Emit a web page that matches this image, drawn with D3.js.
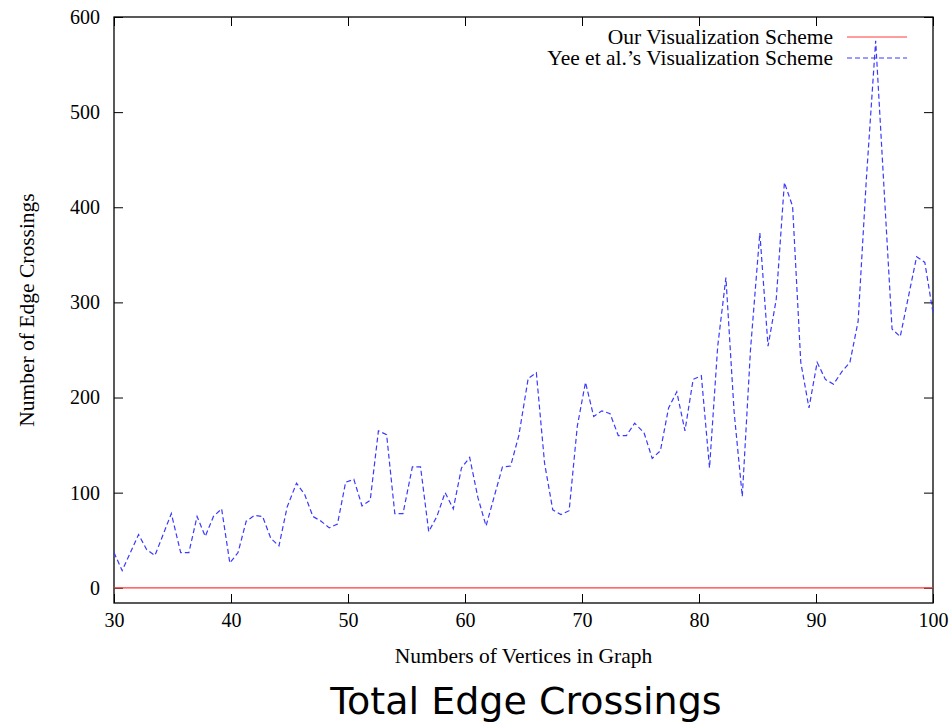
<!DOCTYPE html>
<html>
<head>
<meta charset="utf-8">
<script src="https://cdn.jsdelivr.net/npm/d3@7"></script>
<style>
	body { margin: 0; background: #fff; }
	.tickText { font-family: "Liberation Serif", serif; font-size: 20px; fill: #000; }
	.axisLabel { font-family: "Liberation Serif", serif; font-size: 21.5px; fill: #000; }
	.legendText { font-family: "Liberation Serif", serif; font-size: 21.5px; fill: #000; }
	.title { font-family: "DejaVu Sans", sans-serif; font-size: 38px; fill: #000; }
</style>
</head>
<body>
<svg id="chart" width="952" height="722"></svg>
<script>

// ==================================
// data
// ==================================
var vertexCounts = [
	30.0, 30.7, 31.4, 32.1, 32.8, 33.5, 34.2, 34.9, 35.7, 36.4,
	37.1, 37.8, 38.5, 39.2, 39.9, 40.6, 41.3, 42.0, 42.7, 43.4,
	44.1, 44.8, 45.6, 46.3, 47.0, 47.7, 48.4, 49.1, 49.8, 50.5,
	51.2, 51.9, 52.6, 53.3, 54.0, 54.7, 55.5, 56.2, 56.9, 57.6,
	58.3, 59.0, 59.7, 60.4, 61.1, 61.8, 62.5, 63.2, 63.9, 64.6,
	65.4, 66.1, 66.8, 67.5, 68.2, 68.9, 69.6, 70.3, 71.0, 71.7,
	72.4, 73.1, 73.8, 74.5, 75.3, 76.0, 76.7, 77.4, 78.1, 78.8,
	79.5, 80.2, 80.9, 81.6, 82.3, 83.0, 83.7, 84.4, 85.2, 85.9,
	86.6, 87.3, 88.0, 88.7, 89.4, 90.1, 90.8, 91.5, 92.2, 92.9,
	93.6, 94.3, 95.1, 95.8, 96.5, 97.2, 97.9, 98.6, 99.3, 100.0
];

var yeeCrossings = [
	37, 18, 37, 56, 40, 34, 56, 78, 37, 37,
	75, 54, 75, 83, 26, 37, 70, 76, 75, 52,
	44, 85, 110, 98, 75, 70, 63, 67, 111, 114,
	86, 92, 165, 161, 78, 78, 127, 127, 59, 75,
	100, 83, 126, 137, 95, 65, 96, 127, 128, 160,
	220, 226, 131, 82, 77, 81, 170, 216, 180, 186,
	183, 160, 160, 173, 163, 136, 144, 189, 206, 165,
	219, 223, 126, 254, 326, 185, 96, 250, 373, 254,
	303, 426, 401, 237, 189, 237, 219, 214, 227, 237,
	280, 429, 575, 423, 272, 264, 306, 348, 342, 289
];

// our scheme stays flat on zero over the whole range
var ourVertexCounts = [30, 100];
var ourCrossings = [0, 0];

var xTicks = [30, 40, 50, 60, 70, 80, 90, 100];
var yTicks = [0, 100, 200, 300, 400, 500, 600];

var seriesNames = ["Our Visualization Scheme", "Yee et al.\u2019s Visualization Scheme"];
var seriesColors = ["#ff3a3a", "#3a3aff"];

// ==================================
// layout
// ==================================
var PLOT_L = 114, PLOT_R = 933, PLOT_T = 17, PLOT_B = 603;
var TICK = 9;

var svg = d3.select("#chart");

var x = d3.scaleLinear().domain([30, 100]).range([PLOT_L, PLOT_R]);
var y = d3.scaleLinear().domain([-16, 600]).range([PLOT_B, PLOT_T]);

// axes, ticks pointing inward on all four sides
function drawAxis(axis, tx, ty)
{
	var g = svg.append("g")
		.attr("transform", "translate(" + tx + "," + ty + ")")
		.call(axis);
	g.select(".domain").remove();
	g.selectAll(".tick line").attr("stroke", "#000").attr("stroke-width", 1);
	g.selectAll(".tick text").attr("class", "tickText").attr("font-size", null).attr("font-family", null);
	return g;
}

drawAxis(d3.axisBottom(x).tickValues(xTicks).tickSize(-TICK).tickPadding(10), 0, PLOT_B);
drawAxis(d3.axisTop(x).tickValues(xTicks).tickSize(-TICK).tickFormat(""), 0, PLOT_T);
drawAxis(d3.axisLeft(y).tickValues(yTicks).tickSize(-TICK).tickPadding(14), PLOT_L, 0);
drawAxis(d3.axisRight(y).tickValues(yTicks).tickSize(-TICK).tickFormat(""), PLOT_R, 0);

// frame
svg.append("rect")
	.attr("x", PLOT_L)
	.attr("y", PLOT_T)
	.attr("width", PLOT_R - PLOT_L)
	.attr("height", PLOT_B - PLOT_T)
	.attr("fill", "none")
	.attr("stroke", "#000")
	.attr("stroke-width", 1.3);

// ==================================
// series
// ==================================
var lineGen = d3.line()
	.x(function(d) { return x(d[0]); })
	.y(function(d) { return y(d[1]); });

var plotG = svg.append("g");

plotG.append("path")
	.attr("d", lineGen(d3.zip(ourVertexCounts, ourCrossings)))
	.attr("fill", "none")
	.attr("stroke", seriesColors[0])
	.attr("stroke-width", 1.2);

plotG.append("path")
	.attr("d", lineGen(d3.zip(vertexCounts, yeeCrossings)))
	.attr("fill", "none")
	.attr("stroke", seriesColors[1])
	.attr("stroke-width", 1.2)
	.attr("stroke-dasharray", "5,3");

// ==================================
// legend
// ==================================
var legend = svg.append("g").attr("transform", "translate(0,37)");
seriesNames.forEach(function(name, i)
{
	var row = legend.append("g").attr("transform", "translate(0," + (i * 21) + ")");
	row.append("text")
		.attr("class", "legendText")
		.attr("x", 833)
		.attr("y", 7)
		.attr("text-anchor", "end")
		.text(name);
	row.append("line")
		.attr("x1", 847).attr("x2", 907)
		.attr("y1", 0).attr("y2", 0)
		.attr("stroke", seriesColors[i])
		.attr("stroke-width", 1.2)
		.attr("stroke-dasharray", i == 1 ? "5,3" : null);
});

// ==================================
// labels
// ==================================
svg.append("text")
	.attr("class", "axisLabel")
	.attr("x", (PLOT_L + PLOT_R) / 2)
	.attr("y", 663)
	.attr("text-anchor", "middle")
	.text("Numbers of Vertices in Graph");

svg.append("text")
	.attr("class", "axisLabel")
	.attr("transform", "translate(34," + ((PLOT_T + PLOT_B) / 2) + ") rotate(-90)")
	.attr("text-anchor", "middle")
	.text("Number of Edge Crossings");

svg.append("text")
	.attr("class", "title")
	.attr("x", 526)
	.attr("y", 714)
	.attr("text-anchor", "middle")
	.text("Total Edge Crossings");

</script>
</body>
</html>
